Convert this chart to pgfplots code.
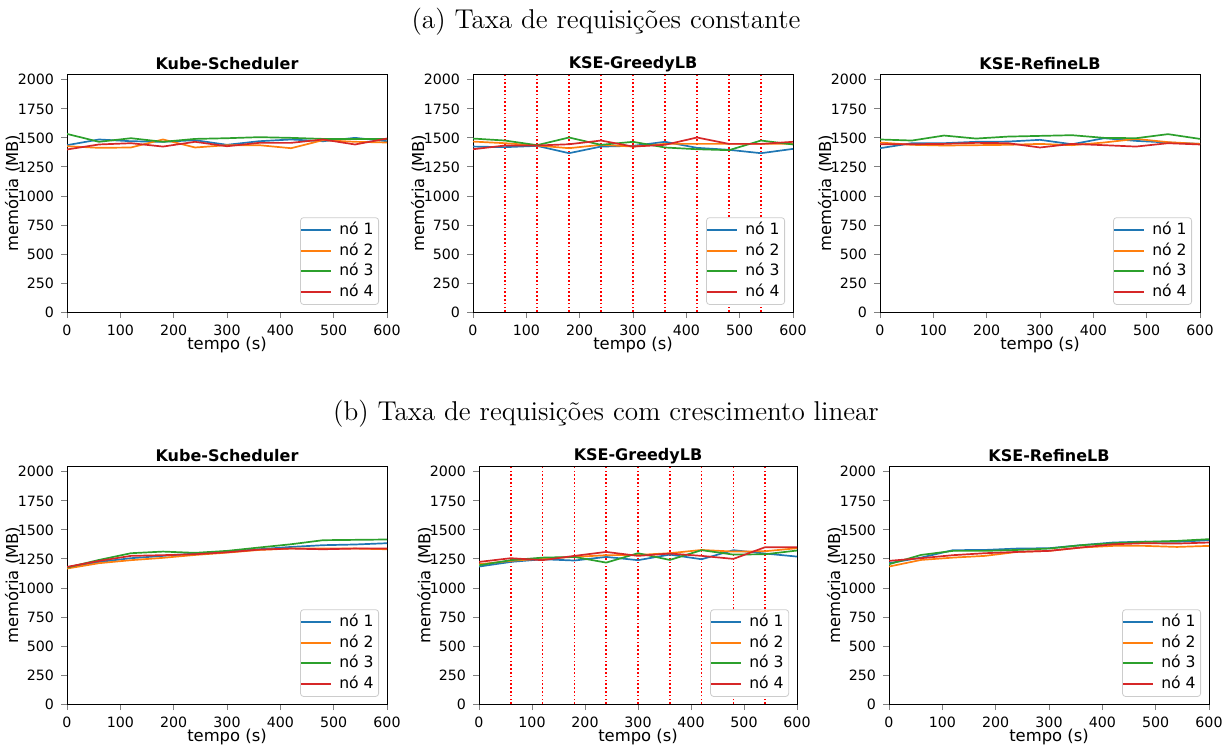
\documentclass[border=0pt]{standalone}
\usepackage{fontspec}
\usepackage{pgfplots}
\usepackage{pgfplotstable}
\pgfplotsset{compat=1.18}
\newfontfamily\dejavu{DejaVu Sans}

\definecolor{c0}{HTML}{1F77B4}
\definecolor{c1}{HTML}{FF7F0E}
\definecolor{c2}{HTML}{2CA02C}
\definecolor{c3}{HTML}{D62728}
\definecolor{ev}{rgb}{1,0,0}

% memory per node (MB), sampled every 60 s
\pgfplotstableread{
t n1 n2 n3 n4
0 1437 1428 1534 1400
60 1486 1414 1466 1443
120 1471 1417 1497 1454
180 1466 1486 1466 1425
240 1480 1417 1491 1466
300 1440 1437 1497 1428
360 1471 1437 1506 1457
420 1486 1411 1500 1457
480 1471 1480 1491 1486
540 1500 1466 1491 1443
600 1471 1460 1491 1494
}\kubeA
\pgfplotstableread{
t n1 n2 n3 n4
0 1425 1468 1494 1402
60 1420 1454 1477 1434
120 1431 1434 1437 1434
180 1368 1411 1503 1445
240 1425 1440 1440 1477
300 1431 1425 1466 1425
360 1466 1448 1417 1440
420 1414 1448 1402 1503
480 1397 1448 1394 1448
540 1368 1448 1477 1448
600 1405 1448 1443 1466
}\greedyA
\pgfplotstableread{
t n1 n2 n3 n4
0 1411 1460 1486 1445
60 1454 1440 1477 1445
120 1454 1434 1520 1448
180 1466 1437 1494 1457
240 1468 1440 1511 1454
300 1483 1448 1517 1417
360 1445 1437 1523 1448
420 1497 1460 1500 1437
480 1474 1491 1497 1425
540 1460 1463 1532 1454
600 1448 1448 1491 1443
}\refineA
\pgfplotstableread{
t n1 n2 n3 n4
0 1178 1167 1175 1181
60 1224 1213 1241 1233
120 1256 1239 1299 1276
180 1276 1259 1313 1282
240 1296 1284 1302 1290
300 1313 1304 1319 1307
360 1333 1327 1348 1330
420 1353 1339 1376 1339
480 1368 1339 1411 1333
540 1374 1339 1414 1339
600 1385 1333 1417 1339
}\kubeB
\pgfplotstableread{
t n1 n2 n3 n4
0 1184 1204 1195 1224
60 1224 1233 1239 1256
120 1247 1253 1261 1239
180 1236 1267 1267 1276
240 1267 1282 1218 1310
300 1239 1284 1299 1276
360 1287 1299 1241 1296
420 1247 1327 1325 1276
480 1325 1313 1287 1250
540 1296 1316 1290 1351
600 1270 1342 1322 1351
}\greedyB
\pgfplotstableread{
t n1 n2 n3 n4
0 1213 1184 1204 1233
60 1261 1241 1284 1256
120 1325 1261 1319 1282
180 1327 1276 1319 1299
240 1339 1310 1327 1310
300 1342 1319 1339 1319
360 1368 1348 1368 1348
420 1391 1362 1385 1376
480 1399 1362 1397 1385
540 1397 1353 1405 1382
600 1411 1362 1420 1391
}\refineB

\pgfplotsset{
  panel/.style={
    scale only axis, width=160pt, height=119pt,
    anchor=south west,
    xmin=0, xmax=600, ymin=0, ymax=2050,
    xtick={0,100,...,600}, ytick={0,250,...,2000},
    /pgf/number format/assume math mode=true,
    /pgf/number format/1000 sep={},
    tick label style={font=\dejavu\fontsize{7.1}{8}\selectfont},
    label style={font=\dejavu\fontsize{8.2}{9}\selectfont},
    title style={font=\dejavu\bfseries\fontsize{8}{9}\selectfont,
      at={(axis description cs:0.5,1.042)}, anchor=center, yshift=-6pt},
    xlabel={tempo (s)}, ylabel={memória (MB)},
    xlabel style={at={(axis description cs:0.5,-0.138)}, anchor=center},
    ylabel style={at={(axis description cs:-0.17,0.5)}, anchor=center},
    tick align=outside, tick pos=left,
    major tick length=3pt,
    tick style={line width=0.4pt},
    axis line style={line width=0.4pt},
    legend style={at={(0.975,0.03)}, anchor=south east,
      font=\dejavu\fontsize{7.8}{9}\selectfont,
      draw=black!20, rounded corners=1.5pt, row sep=1.8pt,
      inner xsep=0pt, inner ysep=2pt,
      nodes={inner xsep=2.5pt, inner ysep=1pt, text height=5.5pt, text depth=1pt},
      cells={anchor=west}},
    legend image code/.code={\draw[line width=0.9pt, ##1] (0pt,0pt) -- (15pt,0pt); \path (16pt,0pt);},
    every axis plot/.append style={line width=0.85pt, mark=none},
  },
  events/.style={draw=ev, dash pattern=on 0.8pt off 1.1pt, line width=0.75pt,
    forget plot, unbounded coords=jump},
}

\newcommand\nodeplots[1]{%
  \addplot[color=c0] table[x=t,y=n1] {#1};
  \addplot[color=c1] table[x=t,y=n2] {#1};
  \addplot[color=c2] table[x=t,y=n3] {#1};
  \addplot[color=c3] table[x=t,y=n4] {#1};
  \legend{nó 1, nó 2, nó 3, nó 4}%
}
% rescheduling instants of the GreedyLB runs (s), one path with jumps
\newcommand\events{%
  \addplot[events] coordinates {
    (60,0) (60,2050) (60,nan)
    (120,0) (120,2050) (120,nan)
    (180,0) (180,2050) (180,nan)
    (240,0) (240,2050) (240,nan)
    (300,0) (300,2050) (300,nan)
    (360,0) (360,2050) (360,nan)
    (420,0) (420,2050) (420,nan)
    (480,0) (480,2050) (480,nan)
    (540,0) (540,2050)};%
}

\begin{document}
\begin{tikzpicture}
\path[use as bounding box] (0,0) rectangle (615pt,-372.5pt);

\node[font=\fontsize{13.6}{16}\selectfont] at (303pt,-11pt) {(a) Taxa de requisições constante};
\node[font=\fontsize{13.6}{16}\selectfont] at (303pt,-207pt) {(b) Taxa de requisições com crescimento linear};

\begin{axis}[panel, at={(33.5pt,-156pt)}, title={Kube-Scheduler}]
  \nodeplots{\kubeA}
\end{axis}
\begin{axis}[panel, at={(236.5pt,-156pt)}, title={KSE-GreedyLB}]
  \events
  \nodeplots{\greedyA}
\end{axis}
\begin{axis}[panel, at={(440pt,-156pt)}, title={KSE-RefineLB}]
  \nodeplots{\refineA}
\end{axis}

\begin{axis}[panel, at={(33.5pt,-352pt)}, title={Kube-Scheduler}]
  \nodeplots{\kubeB}
\end{axis}
\begin{axis}[panel, at={(239.5pt,-352pt)}, width=159pt, title={KSE-GreedyLB}]
  \events
  \nodeplots{\greedyB}
\end{axis}
\begin{axis}[panel, at={(444.5pt,-352pt)}, title={KSE-RefineLB}]
  \nodeplots{\refineB}
\end{axis}
\end{tikzpicture}
\end{document}
